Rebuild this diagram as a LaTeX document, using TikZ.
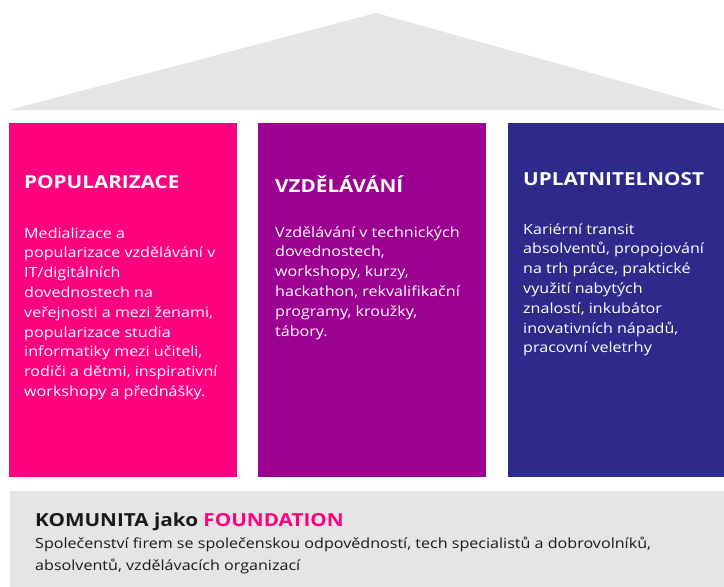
\documentclass[tikz,border=0pt]{standalone}
\usepackage{fontspec}
\setmainfont{Open Sans}[FakeStretch=1.15]
\definecolor{cpink}{HTML}{FF0080}
\definecolor{cpurple}{HTML}{9C0090}
\definecolor{cblue}{HTML}{2E2A8C}
\definecolor{cgray}{HTML}{E5E5E5}
\definecolor{ctext}{HTML}{1A1A1A}
\tikzset{
  pillar/.style={fill=#1, draw=none},
  ptitle/.style={anchor=base west, inner sep=0pt, text=white, font=\fontsize{18}{20}\selectfont\bfseries},
  pbody/.style={anchor=base west, inner sep=0pt, text=white, align=left, font=\fontsize{14}{19.8}\selectfont},
}
\begin{document}
\begin{tikzpicture}[x=1pt,y=-1pt]
\useasboundingbox (0,0) rectangle (724,587);
\fill[white] (0,0) rectangle (724,587);
% roof
\fill[cgray] (9,110) -- (376,13) -- (724,110) -- cycle;
% pillars
\fill[pillar=cpink] (9,123) rectangle (237,477);
\fill[pillar=cpurple] (258,123) rectangle (486,477);
\fill[pillar=cblue] (508,123) rectangle (724,477);
% foundation
\fill[cgray] (10,491) rectangle (724,587);
% titles
\node[ptitle] (t1) at (24,188) {POPULARIZACE};
\node[ptitle] (t2) at (275,192) {VZDĚLÁVÁNÍ};
\node[ptitle] (t3) at (523,185) {UPLATNITELNOST};
% bodies (anchored at the baseline of their last line)
\node[pbody] (b1) at (24,396.4) {Medializace a\\popularizace vzdělávání v\\IT/digitálních\\dovednostech na\\veřejnosti a mezi ženami,\\popularizace studia\\informatiky mezi učiteli,\\rodiči a dětmi, inspirativní\\workshopy a přednášky.};
\node[pbody] (b2) at (275,336) {Vzdělávání v technických\\dovednostech,\\workshopy, kurzy,\\hackathon, rekvalifikační\\programy, kroužky,\\tábory.};
\node[pbody] (b3) at (523,352.8) {Kariérní transit\\absolventů, propojování\\na trh práce, praktické\\využití nabytých\\znalostí, inkubátor\\inovativních nápadů,\\pracovní veletrhy};
% foundation text
\node[anchor=base west, inner sep=0pt, text=ctext, font=\fontsize{18}{20}\selectfont\bfseries] (ft) at (35,526) {KOMUNITA jako \textcolor{cpink}{FOUNDATION}};
\node[anchor=base west, inner sep=0pt, text=ctext, align=left, font=\fontsize{14}{22}\selectfont] (fb) at (35,570) {Společenství firem se společenskou odpovědností, tech specialistů a dobrovolníků,\\absolventů, vzdělávacích organizací};
\end{tikzpicture}
\end{document}
